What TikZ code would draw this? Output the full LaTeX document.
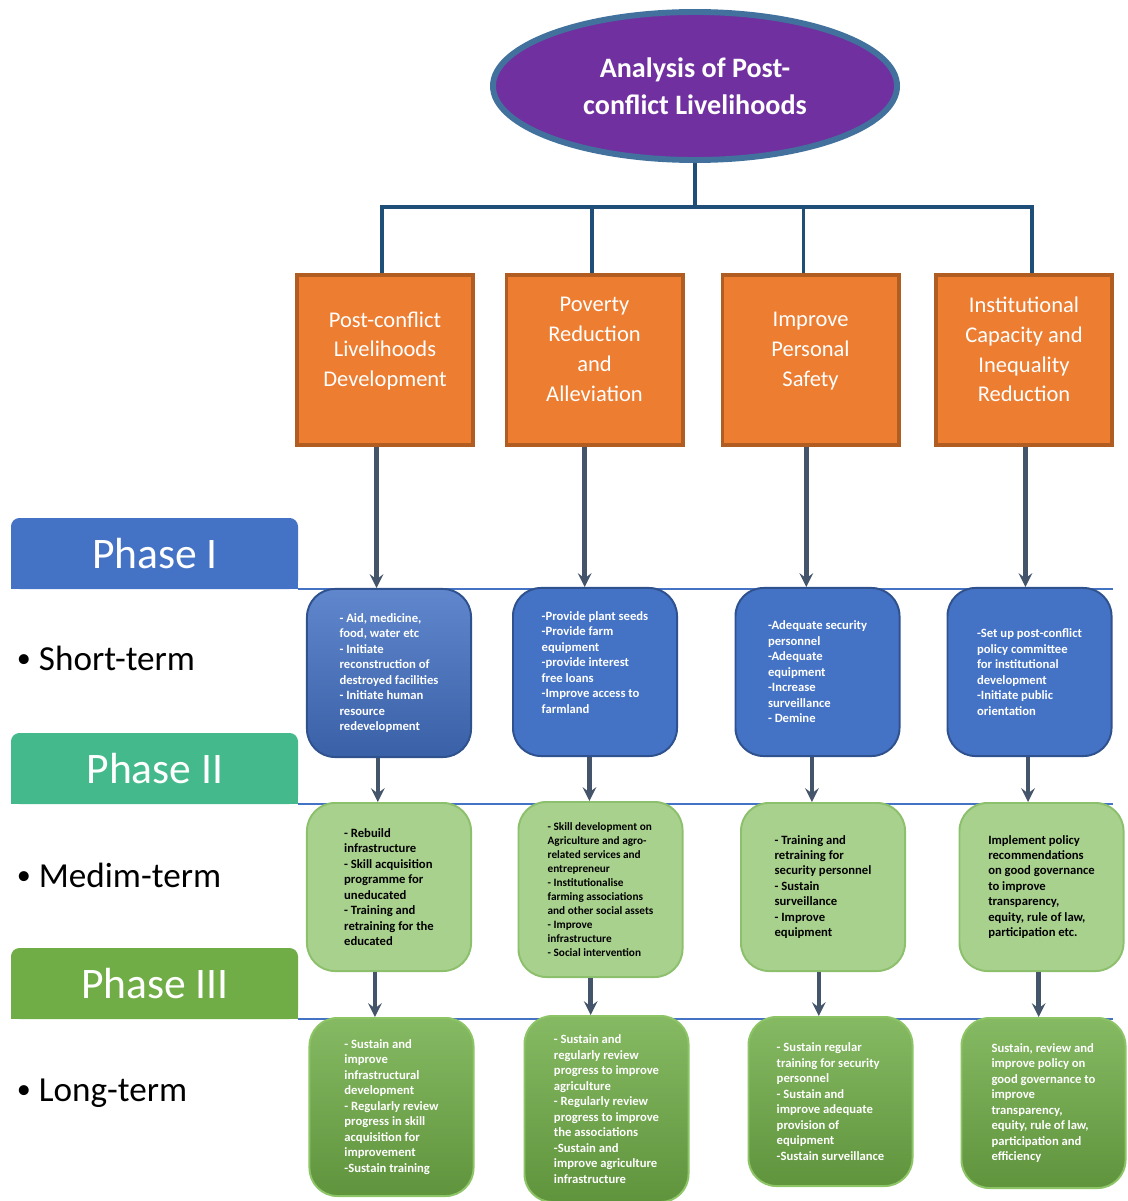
\documentclass[tikz,border=0pt]{standalone}
\usepackage{fontspec}
\setmainfont{Carlito}
\usetikzlibrary{shapes.geometric, arrows}

\definecolor{titlepurple}{HTML}{7030A0}
\definecolor{titleedge}{HTML}{41719C}
\definecolor{treeblue}{HTML}{1F4E79}
\definecolor{goalorange}{HTML}{ED7D31}
\definecolor{goaledge}{HTML}{B15D22}
\definecolor{flowgray}{HTML}{44546A}
\definecolor{rowblue}{HTML}{4472C4}
\definecolor{shortblue}{HTML}{4472C4}
\definecolor{shortedge}{HTML}{2F528F}
\definecolor{medgreen}{HTML}{A9D18E}
\definecolor{mededge}{HTML}{8DC06C}
\definecolor{longgreen}{HTML}{70AD47}
\definecolor{longedge}{HTML}{8CC466}
\definecolor{phaseone}{HTML}{4472C4}
\definecolor{phasetwo}{HTML}{44BA8C}
\definecolor{phasethree}{HTML}{70AD47}

\begin{document}
\begin{tikzpicture}[x=0.025cm, y=-0.025cm]
		\tikzstyle{title} = [ellipse, minimum width = 10.1cm, minimum height = 3.7cm, inner sep = 0pt, fill = titlepurple, draw = titleedge, line width = 4.2pt, text = white, font = \fontsize{20}{26}\selectfont\bfseries, align = center]
		\tikzstyle{goalbox} = [rectangle, minimum width = 4.4cm, minimum height = 4.25cm, fill = goalorange, draw = goaledge, line width = 2.8pt, text = white, font = \fontsize{16}{21.3}\selectfont, align = center]
		\tikzstyle{shortbox} = [rectangle, rounded corners = 0.7cm, minimum width = 4.1cm, minimum height = 4.2cm, fill = shortblue, draw = shortedge, line width = 1.4pt, text = white, font = \fontsize{9}{11}\selectfont\bfseries, align = left]
		\tikzstyle{medbox} = [rectangle, rounded corners = 0.7cm, minimum width = 4.1cm, minimum height = 4.2cm, fill = medgreen, draw = mededge, line width = 1.4pt, text = black, font = \fontsize{9}{11}\selectfont\bfseries, align = left]
		\tikzstyle{longbox} = [rectangle, rounded corners = 0.7cm, minimum width = 4.1cm, minimum height = 4.2cm, top color = longgreen!85!white, bottom color = longgreen!85!black, draw = longedge, line width = 1.4pt, text = white, font = \fontsize{9}{11}\selectfont\bfseries, align = left]
		\tikzstyle{tree} = [line width = 2.8pt, draw = treeblue]
		\tikzstyle{flow} = [->, >=stealth, line width = 3.2pt, draw = flowgray]
		\tikzstyle{rowline} = [line width = 1.4pt, draw = rowblue]
		\tikzstyle{phasetext} = [anchor = base, text = white, font = \fontsize{31}{36}\selectfont]
		\tikzstyle{term} = [anchor = base west, text = black, font = \fontsize{25}{30}\selectfont]
		
		\useasboundingbox (0,0) rectangle (1128,1201);
		
		% phase tabs
		\fill[phaseone, rounded corners = 6pt] (11,518) rectangle (298,589);
		\fill[phaseone] (11,550) rectangle (298,589);
		\fill[phasetwo, rounded corners = 6pt] (11,733) rectangle (298,804);
		\fill[phasetwo] (11,765) rectangle (298,804);
		\fill[phasethree, rounded corners = 6pt] (11,948) rectangle (298,1019);
		\fill[phasethree] (11,980) rectangle (298,1019);
		\node[phasetext] (ph1) at (155,568) {Phase I};
		\node[phasetext] (ph2) at (155,783) {Phase II};
		\node[phasetext] (ph3) at (155,998) {Phase III};
		
		\draw[rowline] (298,589) -- (1113,589);
		\draw[rowline] (298,804) -- (1113,804);
		\draw[rowline] (298,1019) -- (1113,1019);
		
		\node[term] (t1) at (12,670) {{\fontsize{20}{20}\selectfont\raisebox{1.5pt}{\textbullet}}\ Short-term};
		\node[term] (t2) at (12,887) {{\fontsize{20}{20}\selectfont\raisebox{1.5pt}{\textbullet}}\ Medim-term};
		\node[term] (t3) at (12,1101) {{\fontsize{20}{20}\selectfont\raisebox{1.5pt}{\textbullet}}\ Long-term};
		
		% title and goals
		\node[title] at (695,86) (top) {Analysis of Post-\\conflict Livelihoods};
		
		\node[goalbox] at (385,360) (o1) {Post-conflict\\Livelihoods\\Development\\[-6pt]};
		\node[goalbox] at (594.5,360) (o2) {Poverty\\Reduction\\and\\Alleviation\\[-6pt]};
		\node[goalbox] at (810.5,360) (o3) {Improve\\Personal\\Safety\\[-6pt]};
		\node[goalbox] at (1024,360) (o4) {Institutional\\Capacity and\\Inequality\\Reduction\\[-6pt]};
		
		\coordinate (bus) at (695,207);
		\draw[tree] (top.south) -- (bus);
		\draw[tree] (bus) -| ([xshift = -2pt]o1.north);
		\draw[tree] (bus) -| ([xshift = -2pt]o2.north);
		\draw[tree] (bus) -| ([xshift = -5pt]o3.north);
		\draw[tree] (bus) -| ([xshift = 6pt]o4.north);
		
		% short-term
		\node[shortbox, top color = shortblue!85!white, bottom color = shortblue!85!black] at (389,673) (s1) {- Aid, medicine,\\food, water etc\\- Initiate\\reconstruction of\\destroyed facilities\\- Initiate human\\resource\\redevelopment};
		\node[shortbox] at (595,672) (s2) {-Provide plant seeds\\-Provide farm\\equipment\\-provide interest\\free loans\\-Improve access to\\farmland\\[3pt]};
		\node[shortbox] at (817.5,672) (s3) {-Adequate security\\personnel\\-Adequate\\equipment\\-Increase\\surveillance\\- Demine};
		\node[shortbox] at (1029.5,672) (s4) {-Set up post-conflict\\policy committee\\for institutional\\development\\-Initiate public\\orientation};
		
		% medium-term
		\node[medbox] at (389,887) (m1) {- Rebuild\\infrastructure\\- Skill acquisition\\programme for\\uneducated\\- Training and\\retraining for the\\educated};
		\node[medbox, minimum height = 4.375cm, font = \fontsize{8}{9.9}\selectfont\bfseries] at (600.5,889.5) (m2) {- Skill development on\\Agriculture and agro-\\related services and\\entrepreneur\\- Institutionalise\\farming associations\\and other social assets\\- Improve\\infrastructure\\- Social intervention};
		\node[medbox] at (823,887) (m3) {- Training and\\retraining for\\security personnel\\- Sustain\\surveillance\\- Improve\\equipment};
		\node[medbox] at (1041.5,887) (m4) {Implement policy\\recommendations\\on good governance\\to improve\\transparency,\\equity, rule of law,\\participation etc.};
		
		% long-term
		\node[longbox, minimum height = 4.45cm] at (391.5,1107) (l1) {- Sustain and\\improve\\infrastructural\\development\\- Regularly review\\progress in skill\\acquisition for\\improvement\\-Sustain training};
		\node[longbox, minimum height = 4.65cm] at (606.5,1109) (l2) {- Sustain and\\regularly review\\progress to improve\\agriculture\\- Regularly review\\progress to improve\\the associations\\-Sustain and\\improve agriculture\\infrastructure};
		\node[longbox, minimum height = 4.225cm] at (830.5,1101.5) (l3) {- Sustain regular\\training for security\\personnel\\- Sustain and\\improve adequate\\provision of\\equipment\\-Sustain surveillance};
		\node[longbox, minimum height = 4.25cm] at (1043.5,1103) (l4) {Sustain, review and\\improve policy on\\good governance to\\improve\\transparency,\\equity, rule of law,\\participation and\\efficiency};
		
		% phase arrows
		\draw[flow] ([xshift = -6pt]o1.south) -- ([xshift = -6pt]o1.south |- s1.north);
		\draw[flow] ([xshift = -7pt]o2.south) -- ([xshift = -7pt]o2.south |- s2.north);
		\draw[flow] ([xshift = -3pt]o3.south) -- ([xshift = -3pt]o3.south |- s3.north);
		\draw[flow] ([xshift = 1pt]o4.south) -- ([xshift = 1pt]o4.south |- s4.north);
		
		\draw[flow] ([xshift = -8pt]s1.south) -- ([xshift = -8pt]s1.south |- m1.north);
		\draw[flow] ([xshift = -4pt]s2.south) -- ([xshift = -4pt]s2.south |- m2.north);
		\draw[flow] ([xshift = -4pt]s3.south) -- ([xshift = -4pt]s3.south |- m3.north);
		\draw[flow] ([xshift = -1pt]s4.south) -- ([xshift = -1pt]s4.south |- m4.north);
		
		\draw[flow] ([xshift = -10pt]m1.south) -- ([xshift = -10pt]m1.south |- l1.north);
		\draw[flow] ([xshift = -7pt]m2.south) -- ([xshift = -7pt]m2.south |- l2.north);
		\draw[flow] ([xshift = -3pt]m3.south) -- ([xshift = -3pt]m3.south |- l3.north);
		\draw[flow] ([xshift = -2pt]m4.south) -- ([xshift = -2pt]m4.south |- l4.north);
\end{tikzpicture}
\end{document}
